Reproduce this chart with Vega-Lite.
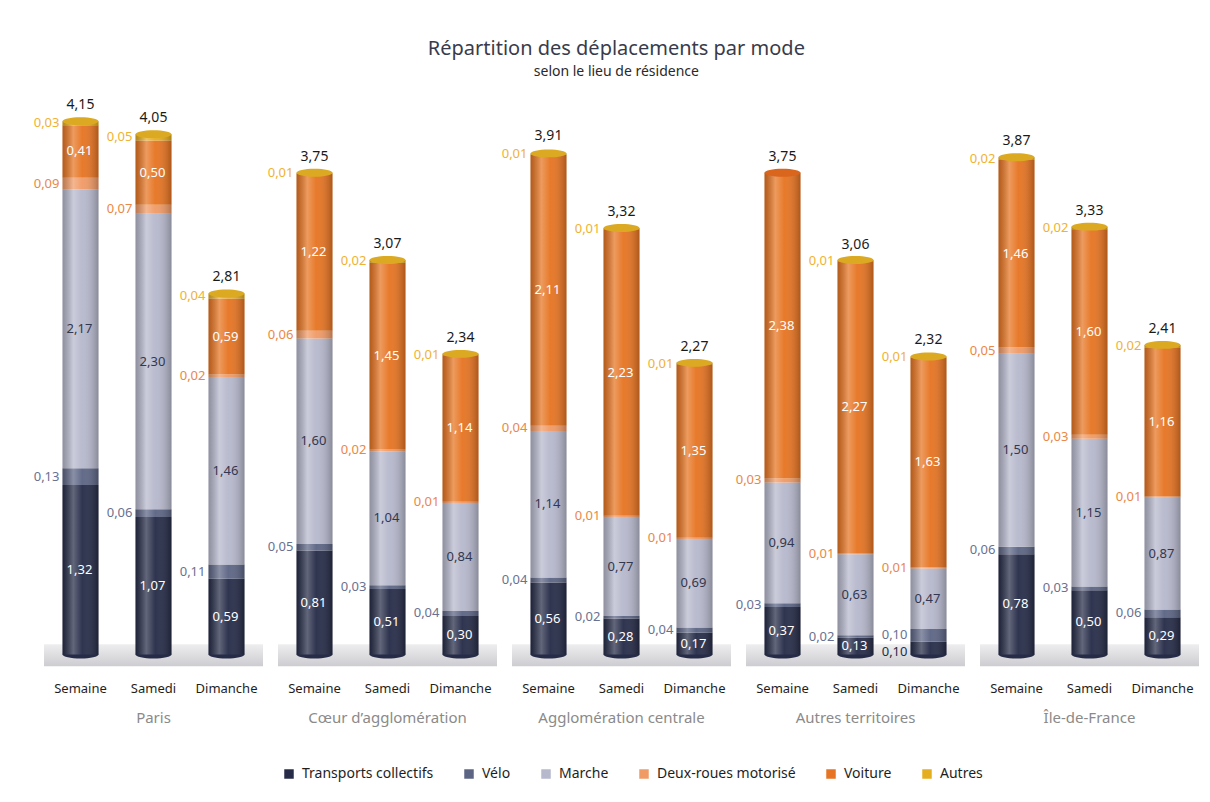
{
  "$schema": "https://vega.github.io/schema/vega-lite/v6.json",
  "padding": {"left": 33, "top": 39, "right": 5, "bottom": 5},
  "background": "white",
  "title": {
    "text": "Répartition des déplacements par mode",
    "subtitle": "selon le lieu de résidence",
    "anchor": "middle",
    "font": "Noto Sans",
    "subtitleFont": "Noto Sans",
    "fontSize": 20,
    "subtitleFontSize": 14,
    "fontWeight": "normal",
    "color": "#3a3b4a",
    "subtitleColor": "#2a2a2a",
    "subtitlePadding": 6,
    "offset": 19
  },
  "data": {
    "values": [
      {"zone": "Paris", "jour": "Semaine", "Transports collectifs": 1.32, "Vélo": 0.13, "Marche": 2.17, "Deux-roues motorisé": 0.09, "Voiture": 0.41, "Autres": 0.03, "total": 4.15},
      {"zone": "Paris", "jour": "Samedi", "Transports collectifs": 1.07, "Vélo": 0.06, "Marche": 2.30, "Deux-roues motorisé": 0.07, "Voiture": 0.50, "Autres": 0.05, "total": 4.05},
      {"zone": "Paris", "jour": "Dimanche", "Transports collectifs": 0.59, "Vélo": 0.11, "Marche": 1.46, "Deux-roues motorisé": 0.02, "Voiture": 0.59, "Autres": 0.04, "total": 2.81},
      {"zone": "Cœur d’agglomération", "jour": "Semaine", "Transports collectifs": 0.81, "Vélo": 0.05, "Marche": 1.60, "Deux-roues motorisé": 0.06, "Voiture": 1.22, "Autres": 0.01, "total": 3.75},
      {"zone": "Cœur d’agglomération", "jour": "Samedi", "Transports collectifs": 0.51, "Vélo": 0.03, "Marche": 1.04, "Deux-roues motorisé": 0.02, "Voiture": 1.45, "Autres": 0.02, "total": 3.07},
      {"zone": "Cœur d’agglomération", "jour": "Dimanche", "Transports collectifs": 0.30, "Vélo": 0.04, "Marche": 0.84, "Deux-roues motorisé": 0.01, "Voiture": 1.14, "Autres": 0.01, "total": 2.34},
      {"zone": "Agglomération centrale", "jour": "Semaine", "Transports collectifs": 0.56, "Vélo": 0.04, "Marche": 1.14, "Deux-roues motorisé": 0.04, "Voiture": 2.11, "Autres": 0.01, "total": 3.91},
      {"zone": "Agglomération centrale", "jour": "Samedi", "Transports collectifs": 0.28, "Vélo": 0.02, "Marche": 0.77, "Deux-roues motorisé": 0.01, "Voiture": 2.23, "Autres": 0.01, "total": 3.32},
      {"zone": "Agglomération centrale", "jour": "Dimanche", "Transports collectifs": 0.17, "Vélo": 0.04, "Marche": 0.69, "Deux-roues motorisé": 0.01, "Voiture": 1.35, "Autres": 0.01, "total": 2.27},
      {"zone": "Autres territoires", "jour": "Semaine", "Transports collectifs": 0.37, "Vélo": 0.03, "Marche": 0.94, "Deux-roues motorisé": 0.03, "Voiture": 2.38, "Autres": 0, "total": 3.75},
      {"zone": "Autres territoires", "jour": "Samedi", "Transports collectifs": 0.13, "Vélo": 0.02, "Marche": 0.63, "Deux-roues motorisé": 0.01, "Voiture": 2.27, "Autres": 0.01, "total": 3.06},
      {"zone": "Autres territoires", "jour": "Dimanche", "Transports collectifs": 0.10, "Vélo": 0.10, "Marche": 0.47, "Deux-roues motorisé": 0.01, "Voiture": 1.63, "Autres": 0.01, "total": 2.32},
      {"zone": "Île-de-France", "jour": "Semaine", "Transports collectifs": 0.78, "Vélo": 0.06, "Marche": 1.50, "Deux-roues motorisé": 0.05, "Voiture": 1.46, "Autres": 0.02, "total": 3.87},
      {"zone": "Île-de-France", "jour": "Samedi", "Transports collectifs": 0.50, "Vélo": 0.03, "Marche": 1.15, "Deux-roues motorisé": 0.03, "Voiture": 1.60, "Autres": 0.02, "total": 3.33},
      {"zone": "Île-de-France", "jour": "Dimanche", "Transports collectifs": 0.29, "Vélo": 0.06, "Marche": 0.87, "Deux-roues motorisé": 0.01, "Voiture": 1.16, "Autres": 0.02, "total": 2.41}
    ]
  },
  "transform": [
    {"fold": ["Transports collectifs", "Vélo", "Marche", "Deux-roues motorisé", "Voiture", "Autres"], "as": ["mode", "valeur"]},
    {"calculate": "indexof(['Transports collectifs','Vélo','Marche','Deux-roues motorisé','Voiture','Autres'], datum.mode)", "as": "rang"},
    {"stack": "valeur", "groupby": ["zone", "jour"], "sort": [{"field": "rang", "order": "ascending"}], "as": ["y0", "y1"]},
    {"calculate": "(datum.y0 + datum.y1) / 2", "as": "ymid"},
    {"joinaggregate": [{"op": "max", "field": "y1", "as": "ytop"}], "groupby": ["zone", "jour"]}
  ],
  "facet": {
    "column": {
      "field": "zone",
      "sort": ["Paris", "Cœur d’agglomération", "Agglomération centrale", "Autres territoires", "Île-de-France"],
      "header": {"labelOrient": "bottom", "title": null, "labelFont": "Noto Sans", "labelFontSize": 15, "labelColor": "#8a8a8a", "labelPadding": 16}
    }
  },
  "bounds": "flush",
  "spacing": 15,
  "resolve": {"scale": {"x": "shared", "y": "shared"}},
  "spec": {
    "width": 219,
    "height": 568,
    "encoding": {
      "x": {
        "field": "jour", "type": "nominal", "sort": ["Semaine", "Samedi", "Dimanche"],
        "scale": {"paddingInner": 0, "paddingOuter": 0},
        "axis": {"title": null, "domain": false, "ticks": false, "labelAngle": 0, "labelFont": "Noto Sans", "labelFontSize": 13, "labelColor": "#1e1e1e", "labelPadding": 12}
      }
    },
    "layer": [
      {
        "transform": [{"filter": "datum.rang == 0 && datum.jour == 'Semaine'"}],
        "mark": {"type": "rect", "fill": {"gradient": "linear", "x1": 0, "y1": 0, "x2": 0, "y2": 1, "stops": [{"offset": 0, "color": "#eeeef0"}, {"offset": 1, "color": "#cdcdd1"}]}},
        "encoding": {
          "x": null,
          "y": {"datum": -0.09, "type": "quantitative", "scale": {"domain": [-0.12, 4.3], "nice": false, "zero": false}, "axis": null},
          "y2": {"datum": 0.08}
        }
      },
      {
        "transform": [{"filter": "datum.rang == 0"}],
        "mark": {"type": "point", "shape": "M -1 0 A 1 0.22 0 1 0 1 0 A 1 0.22 0 1 0 -1 0 Z", "size": 1296, "filled": true, "opacity": 1, "fill": "#262c48", "strokeWidth": 0},
        "encoding": {"y": {"datum": 0, "type": "quantitative"}}
      },
      {
        "mark": {"type": "bar", "width": 36},
        "encoding": {
          "y": {"field": "y1", "type": "quantitative"},
          "y2": {"field": "y0"},
          "color": {
            "field": "mode", "type": "nominal",
            "scale": {
              "domain": ["Transports collectifs", "Vélo", "Marche", "Deux-roues motorisé", "Voiture", "Autres"],
              "range": ["#262c48", "#5c6584", "#b6b8cc", "#f09a66", "#e67422", "#e5ae1e"]
            },
            "legend": {
              "title": null, "orient": "none", "direction": "horizontal", "legendX": 238, "legendY": 665,
              "symbolType": "square", "symbolSize": 90, "symbolStrokeWidth": 0,
              "labelFont": "Noto Sans", "labelFontSize": 14, "labelColor": "#1e1e1e", "columnPadding": 28, "labelOffset": 6
            }
          }
        }
      },
      {
        "transform": [{"filter": "datum.rang == 5"}],
        "mark": {"type": "bar", "width": 36, "fill": {"gradient": "linear", "x1": 0, "y1": 0, "x2": 1, "y2": 0, "stops": [{"offset": 0, "color": "rgba(0,0,0,0.22)"}, {"offset": 0.3, "color": "rgba(255,255,255,0.28)"}, {"offset": 0.55, "color": "rgba(255,255,255,0.04)"}, {"offset": 1, "color": "rgba(0,0,0,0.25)"}]}},
        "encoding": {"y": {"field": "ytop", "type": "quantitative"}, "y2": {"datum": 0}}
      },
      {
        "transform": [{"filter": "datum.valeur > 0 && datum.y1 == datum.ytop"}],
        "mark": {"type": "point", "shape": "M -1 0 A 1 0.22 0 1 0 1 0 A 1 0.22 0 1 0 -1 0 Z", "size": 1296, "filled": true, "opacity": 1, "strokeWidth": 0},
        "encoding": {
          "y": {"field": "y1", "type": "quantitative"},
          "fill": {"condition": {"test": "datum.mode == 'Autres'", "value": "#dcaa22"}, "value": "#d9661c"}
        }
      },
      {
        "transform": [{"filter": "(datum.mode == 'Transports collectifs' && datum.valeur >= 0.12) || datum.mode == 'Voiture'"}],
        "mark": {"type": "text", "font": "Noto Sans", "fontSize": 13, "color": "white", "dx": -1},
        "encoding": {"y": {"field": "ymid", "type": "quantitative"}, "text": {"field": "valeur", "type": "quantitative", "format": ".2f"}}
      },
      {
        "transform": [{"filter": "datum.mode == 'Marche'"}],
        "mark": {"type": "text", "font": "Noto Sans", "fontSize": 13, "color": "#33374f", "dx": -1},
        "encoding": {"y": {"field": "ymid", "type": "quantitative"}, "text": {"field": "valeur", "type": "quantitative", "format": ".2f"}}
      },
      {
        "transform": [{"filter": "datum.mode == 'Vélo' || ((datum.mode == 'Deux-roues motorisé' || datum.mode == 'Autres') && datum.valeur > 0)"}],
        "mark": {"type": "text", "font": "Noto Sans", "fontSize": 13, "align": "right", "dx": -21},
        "encoding": {
          "y": {"field": "ymid", "type": "quantitative"},
          "text": {"field": "valeur", "type": "quantitative", "format": ".2f"},
          "fill": {
            "condition": [
              {"test": "datum.mode == 'Vélo'", "value": "#6a7190"},
              {"test": "datum.mode == 'Deux-roues motorisé'", "value": "#ec8746"}
            ],
            "value": "#f0b232"
          }
        }
      },
      {
        "transform": [{"filter": "datum.mode == 'Transports collectifs' && datum.valeur < 0.12"}],
        "mark": {"type": "text", "font": "Noto Sans", "fontSize": 13, "align": "right", "dx": -21, "dy": 4, "color": "#262c48"},
        "encoding": {
          "y": {"field": "ymid", "type": "quantitative"},
          "text": {"field": "valeur", "type": "quantitative", "format": ".2f"}
        }
      },
      {
        "transform": [{"filter": "datum.rang == 0"}],
        "mark": {"type": "text", "font": "Noto Sans", "fontSize": 14, "color": "#1a1a1a", "baseline": "bottom", "dy": -9},
        "encoding": {"y": {"field": "total", "type": "quantitative"}, "text": {"field": "total", "type": "quantitative", "format": ".2f"}}
      }
    ]
  },
  "config": {
    "locale": {"number": {"decimal": ",", "thousands": " ", "grouping": [3], "currency": ["", " €"]}},
    "view": {"stroke": null},
    "font": "Noto Sans"
  }
}
